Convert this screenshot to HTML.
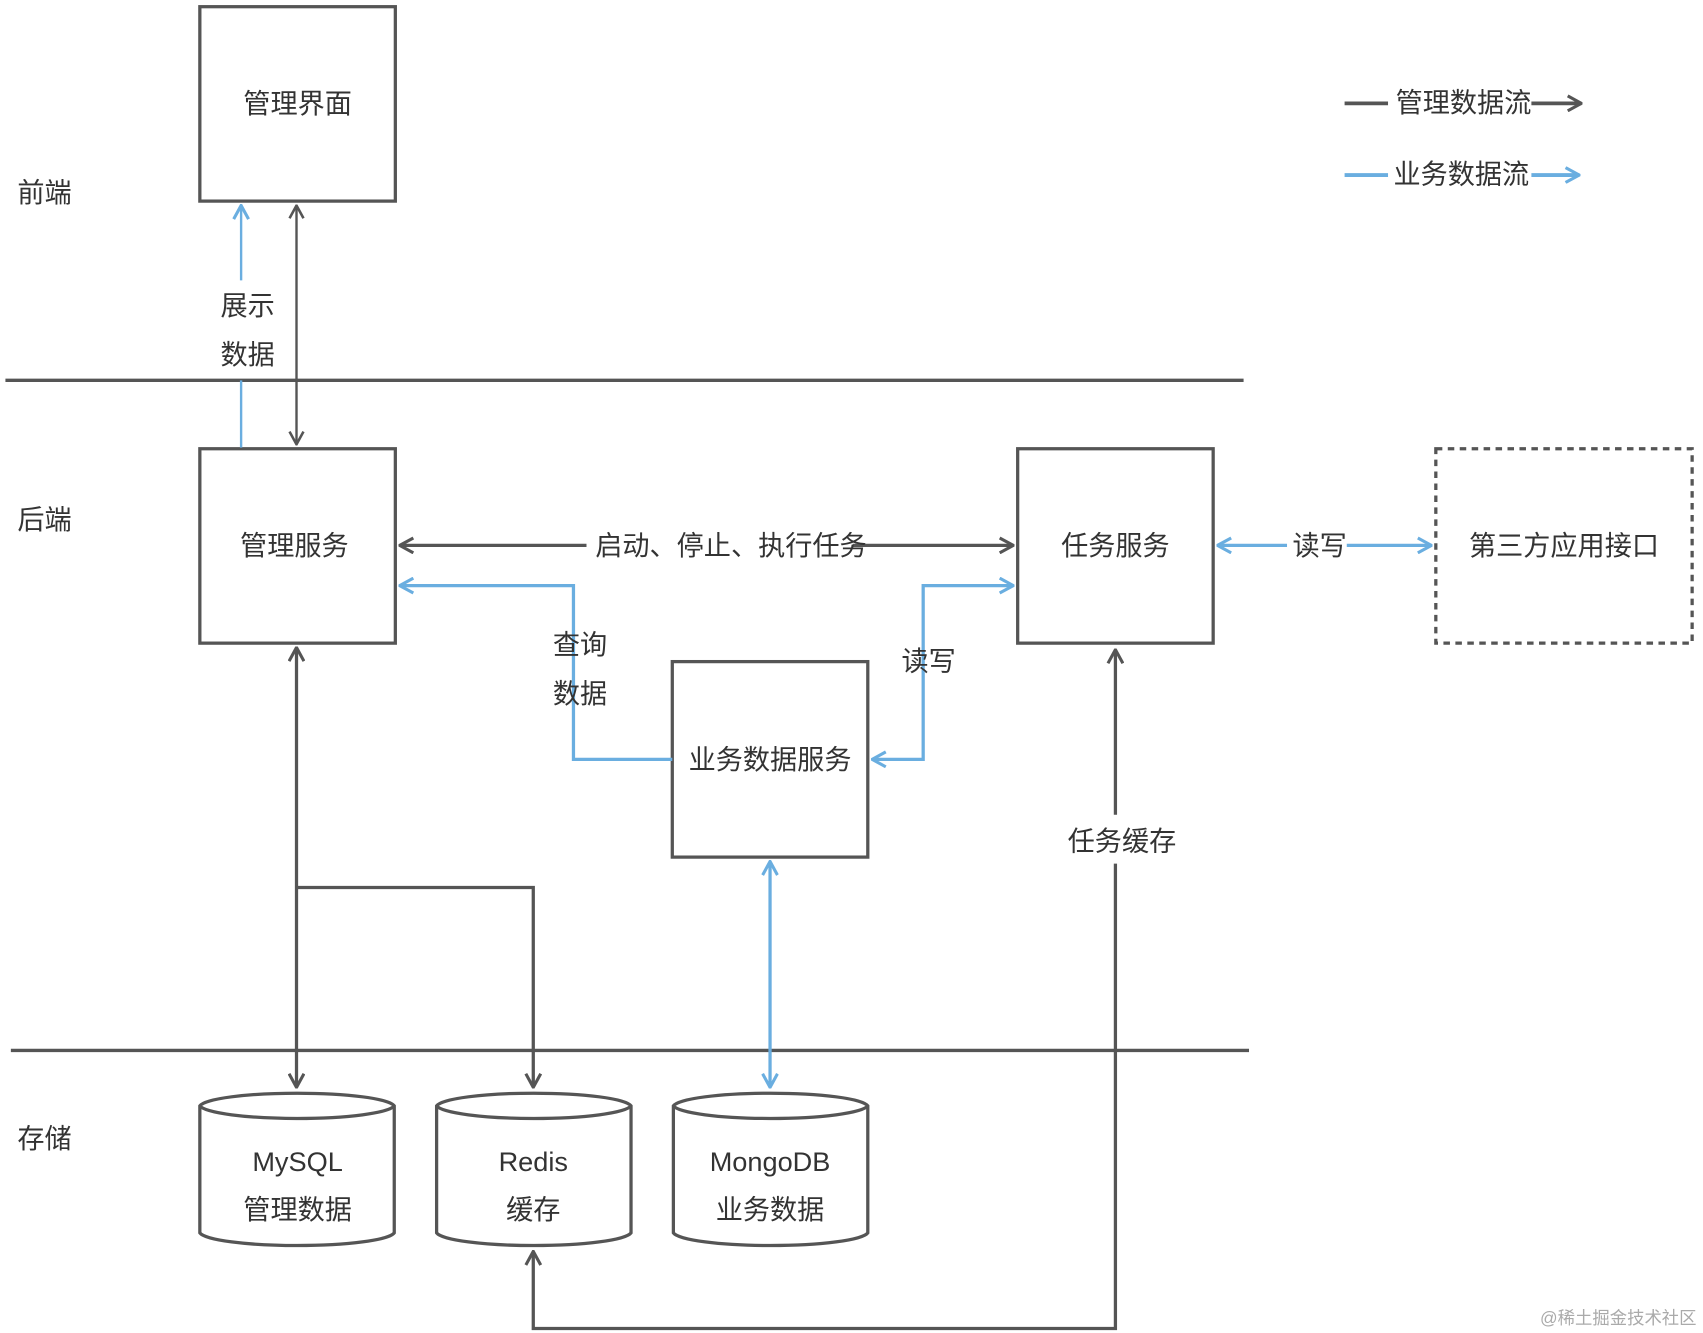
<!DOCTYPE html>
<html><head><meta charset="utf-8"><style>
html,body{margin:0;padding:0;background:#fff;}
svg{display:block;}
text{font-family:"Liberation Sans","Noto Sans CJK SC",sans-serif;font-size:25px;fill:#333;}
</style></head><body>
<svg width="1703" height="1333" viewBox="0 0 1568 1227" xmlns="http://www.w3.org/2000/svg">
<defs>
<marker id="g" viewBox="0 0 14 14" refX="13" refY="7" markerWidth="15" markerHeight="15" markerUnits="userSpaceOnUse" orient="auto-start-reverse"><path d="M2,1 L13,7 L2,13" fill="none" stroke="#555" stroke-width="2.2"/></marker>
<marker id="g2" viewBox="0 0 14 14" refX="13" refY="7" markerWidth="16" markerHeight="16" markerUnits="userSpaceOnUse" orient="auto-start-reverse"><path d="M2,1 L13,7 L2,13" fill="none" stroke="#555" stroke-width="2.5"/></marker>
<marker id="b" viewBox="0 0 14 14" refX="13" refY="7" markerWidth="16" markerHeight="16" markerUnits="userSpaceOnUse" orient="auto-start-reverse"><path d="M2,1 L13,7 L2,13" fill="none" stroke="#6aaee0" stroke-width="2.5"/></marker>
</defs>
<g fill="none" stroke="#555" stroke-width="3">
<rect x="184" y="6" width="180" height="179"/>
<rect x="184" y="413" width="180" height="179"/>
<rect x="937" y="413" width="180" height="179"/>
<rect x="619" y="609" width="180" height="180"/>
<rect x="1322" y="413" width="236" height="179" stroke-dasharray="6,5"/>
<line x1="5" y1="350" x2="1145" y2="350"/>
<line x1="10" y1="967" x2="1150" y2="967"/>
<path d="M184,1018 a90,13 0 0,1 179,0 v117 a90,13 0 0,1 -179,0 Z M184,1018 a90,13 0 0,0 179,0"/>
<path d="M402,1018 a90,13 0 0,1 179,0 v117 a90,13 0 0,1 -179,0 Z M402,1018 a90,13 0 0,0 179,0"/>
<path d="M620,1018 a90,13 0 0,1 179,0 v117 a90,13 0 0,1 -179,0 Z M620,1018 a90,13 0 0,0 179,0"/>
</g>
<g fill="none" stroke-width="2.5">
<line x1="273" y1="189" x2="273" y2="409" stroke="#555" stroke-width="2.2" marker-start="url(#g)" marker-end="url(#g)"/>
<line x1="222" y1="258" x2="222" y2="189" stroke="#6aaee0" stroke-width="2.2" marker-end="url(#b)"/>
<line x1="222" y1="350" x2="222" y2="412" stroke="#6aaee0" stroke-width="2.2"/>
<line x1="368" y1="502" x2="540" y2="502" stroke="#555" stroke-width="3" marker-start="url(#g2)"/>
<line x1="785" y1="502" x2="933" y2="502" stroke="#555" stroke-width="3" marker-end="url(#g2)"/>
<path d="M619,699 H528 V539 H368" stroke="#6aaee0" stroke-width="3" marker-end="url(#b)"/>
<path d="M803,699 H850 V539 H933" stroke="#6aaee0" stroke-width="3" marker-start="url(#b)" marker-end="url(#b)"/>
<line x1="1121" y1="502" x2="1185" y2="502" stroke="#6aaee0" stroke-width="3" marker-start="url(#b)"/>
<line x1="1240" y1="502" x2="1318" y2="502" stroke="#6aaee0" stroke-width="3" marker-end="url(#b)"/>
<line x1="273" y1="596" x2="273" y2="1001" stroke="#555" stroke-width="3" marker-start="url(#g2)" marker-end="url(#g2)"/>
<path d="M273,817 H491 V1001" stroke="#555" stroke-width="3" marker-end="url(#g2)"/>
<line x1="709" y1="793" x2="709" y2="1001" stroke="#6aaee0" stroke-width="3" marker-start="url(#b)" marker-end="url(#b)"/>
<path d="M1027,750 V598" stroke="#555" stroke-width="3" marker-end="url(#g2)"/>
<path d="M1027,795 V1223 H491 V1152" stroke="#555" stroke-width="3" marker-end="url(#g2)"/>
<line x1="1238" y1="95" x2="1278" y2="95" stroke="#555" stroke-width="3.5"/>
<line x1="1410" y1="95" x2="1456" y2="95" stroke="#555" stroke-width="3.5" marker-end="url(#g2)"/>
<line x1="1238" y1="161" x2="1278" y2="161" stroke="#6aaee0" stroke-width="3.5"/>
<line x1="1410" y1="161" x2="1454" y2="161" stroke="#6aaee0" stroke-width="3.5" marker-end="url(#b)"/>
</g>
<g text-anchor="middle">
<text x="41" y="186">前端</text>
<text x="41" y="487">后端</text>
<text x="41" y="1057">存储</text>
<text x="274" y="104">管理界面</text>
<text x="228" y="290">展示</text>
<text x="228" y="335">数据</text>
<text x="271" y="511">管理服务</text>
<text x="673" y="511">启动、停止、执行任务</text>
<text x="1027" y="511">任务服务</text>
<text x="1215" y="511">读写</text>
<text x="1440" y="511">第三方应用接口</text>
<text x="534" y="602">查询</text>
<text x="534" y="647">数据</text>
<text x="855" y="617">读写</text>
<text x="709" y="708">业务数据服务</text>
<text x="1033" y="783">任务缓存</text>
<text x="274" y="1078">MySQL</text>
<text x="274" y="1122">管理数据</text>
<text x="491" y="1078">Redis</text>
<text x="491" y="1122">缓存</text>
<text x="709" y="1078">MongoDB</text>
<text x="709" y="1122">业务数据</text>
</g>
<text x="1285" y="103">管理数据流</text>
<text x="1283" y="169">业务数据流</text>
<text x="1490" y="1219" text-anchor="middle" style="font-size:16px;fill:#aaa">@稀土掘金技术社区</text>
</svg>
</body></html>
